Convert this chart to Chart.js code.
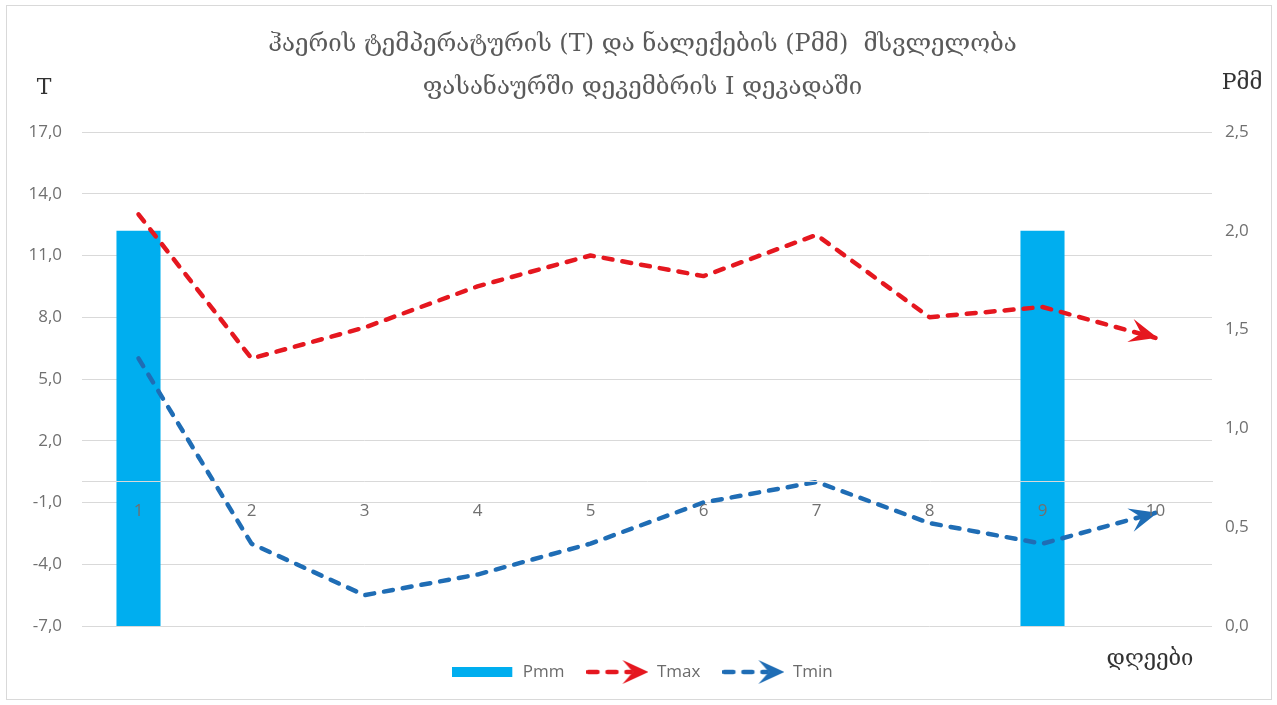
<!DOCTYPE html>
<html>
<head>
<meta charset="utf-8">
<title>ჰაერის ტემპერატურა და ნალექები</title>
<script src="https://cdn.jsdelivr.net/npm/chart.js@4.4.1/dist/chart.umd.min.js"></script>
<style>
  html, body { margin: 0; padding: 0; background: #fff; }
  #wrap { width: 1277px; height: 705px; position: relative; }
</style>
</head>
<body>
<div id="wrap"><canvas id="myChart" width="1277" height="705"></canvas></div>
<script>
// data
const days = ['1', '2', '3', '4', '5', '6', '7', '8', '9', '10'];
const pmm = [2.0, 0, 0, 0, 0, 0, 0, 0, 2.0, 0];
const tmax = [13.0, 6.0, 7.5, 9.5, 11.0, 10.0, 12.0, 8.0, 8.5, 7.0];
const tmin = [6.0, -3.0, -5.5, -4.5, -3.0, -1.0, 0.0, -2.0, -3.0, -1.5];
const tTicks = [-7, -4, -1, 2, 5, 8, 11, 14, 17];
const pTicks = [0, 0.5, 1.0, 1.5, 2.0, 2.5];

const titleLines = [
  'ჰაერის ტემპერატურის (T) და ნალექების (Pმმ)  მსვლელობა',
  'ფასანაურში დეკემბრის I დეკადაში',
];

const geoFont = '"DejaVu Serif", "DejaVu Sans", serif';
const sansFont = '"Open Sans", sans-serif';
const tickColor = '#707070';
const red = '#E5171F';
const blue = '#1F6DB5';
const sky = '#00AEEF';

const comma = (v) => Number(v).toFixed(1).replace('.', ',');

const drawArrow = (ctx, x, y, ang, color, len, wid) => {
  ctx.save();
  ctx.translate(x, y);
  ctx.rotate(ang);
  ctx.fillStyle = color;
  ctx.beginPath();
  ctx.moveTo(0, 0);
  ctx.lineTo(-len, -wid / 2);
  ctx.lineTo(-len * 0.6, 0);
  ctx.lineTo(-len, wid / 2);
  ctx.closePath();
  ctx.fill();
  ctx.restore();
};

const legendIcon = (kind, color) => {
  const c = document.createElement('canvas');
  c.width = 62;
  c.height = 26;
  const g = c.getContext('2d');
  if (kind === 'bar') {
    g.fillStyle = color;
    g.fillRect(0, 8, 60, 10);
  } else {
    g.strokeStyle = color;
    g.lineWidth = 4.5;
    g.lineCap = 'round';
    g.setLineDash([9, 10]);
    g.beginPath();
    g.moveTo(2, 13);
    g.lineTo(44, 13);
    g.stroke();
    drawArrow(g, 62, 13, 0, color, 26, 24);
  }
  return c;
};

const icons = [legendIcon('bar', sky), legendIcon('line', red), legendIcon('line', blue)];

// frame, arrow heads at the line ends, loose axis texts
const extras = {
  id: 'extras',
  beforeDraw(chart) {
    const ctx = chart.ctx;
    ctx.save();
    ctx.fillStyle = '#fff';
    ctx.fillRect(0, 0, chart.width, chart.height);
    ctx.strokeStyle = '#d9d9d9';
    ctx.lineWidth = 1;
    ctx.strokeRect(6.5, 5.5, 1265, 694);
    ctx.restore();
  },
  afterDatasetsDraw(chart) {
    const ctx = chart.ctx;
    chart.data.datasets.forEach((ds, i) => {
      if (ds.type !== 'line') return;
      const pts = chart.getDatasetMeta(i).data;
      const a = pts[pts.length - 2];
      const b = pts[pts.length - 1];
      drawArrow(ctx, b.x + 2, b.y, Math.atan2(b.y - a.y, b.x - a.x), ds.borderColor, 28, 24);
    });
  },
  afterDraw(chart) {
    const ctx = chart.ctx;
    ctx.save();
    ctx.fillStyle = '#333';
    ctx.textAlign = 'center';
    ctx.textBaseline = 'middle';
    ctx.font = '22px ' + geoFont;
    ctx.fillText('T', 44, 88);
    ctx.fillText('Pმმ', 1242, 83);
    ctx.fillText('დღეები', 1150, 659);
    ctx.restore();
  },
};

const ctx = document.getElementById('myChart').getContext('2d');

new Chart(ctx, {
  data: {
    labels: days,
    datasets: [
      {
        type: 'bar',
        label: 'Pmm',
        data: pmm,
        yAxisID: 'y2',
        backgroundColor: sky,
        borderWidth: 0,
        categoryPercentage: 1,
        barPercentage: 0.39,
        order: 3,
      },
      {
        type: 'line',
        label: 'Tmax',
        data: tmax,
        yAxisID: 'y',
        borderColor: red,
        borderWidth: 4.5,
        borderDash: [9, 10],
        borderCapStyle: 'round',
        borderJoinStyle: 'round',
        pointRadius: 0,
        tension: 0,
        order: 1,
      },
      {
        type: 'line',
        label: 'Tmin',
        data: tmin,
        yAxisID: 'y',
        borderColor: blue,
        borderWidth: 4.5,
        borderDash: [9, 10],
        borderCapStyle: 'round',
        borderJoinStyle: 'round',
        pointRadius: 0,
        tension: 0,
        order: 2,
      },
    ],
  },
  options: {
    responsive: false,
    animation: false,
    devicePixelRatio: 1,
    layout: {
      padding: { top: 0, left: 8, right: 0, bottom: 14.5 },
    },
    plugins: {
      title: {
        display: true,
        text: titleLines,
        color: '#5a5a5a',
        font: { family: geoFont, size: 24, weight: 'normal', lineHeight: 1.8 },
        padding: { top: 23, bottom: 22.6 },
      },
      legend: {
        position: 'bottom',
        title: {
          display: true,
          text: '',
          font: { size: 12.9 },
          padding: 0,
        },
        labels: {
          usePointStyle: true,
          pointStyleWidth: 62,
          padding: 22,
          color: '#6b6b6b',
          font: { family: sansFont, size: 17 },
          sort: (a, b) => a.datasetIndex - b.datasetIndex,
          generateLabels: (chart) =>
            Chart.defaults.plugins.legend.labels.generateLabels(chart).map((item) => {
              item.pointStyle = icons[item.datasetIndex];
              return item;
            }),
        },
      },
      tooltip: { enabled: false },
    },
    scales: {
      x: {
        type: 'category',
        position: { y: 0 },
        offset: true,
        grid: { display: false, drawTicks: false },
        border: { display: true, color: '#d9d9d9', width: 1, z: 1 },
        ticks: {
          z: 1,
          color: tickColor,
          padding: 19,
          font: { family: sansFont, size: 17 },
        },
      },
      y: {
        position: 'left',
        min: tTicks[0],
        max: tTicks[tTicks.length - 1],
        afterFit: (scale) => { scale.width = 74; },
        grid: { color: '#d9d9d9', drawTicks: false },
        border: { display: false },
        ticks: {
          stepSize: tTicks[1] - tTicks[0],
          padding: 20,
          color: tickColor,
          font: { family: sansFont, size: 17 },
          callback: comma,
        },
      },
      y2: {
        position: 'right',
        min: pTicks[0],
        max: pTicks[pTicks.length - 1],
        afterFit: (scale) => { scale.width = 65; },
        grid: { display: false, drawTicks: false },
        border: { display: false },
        ticks: {
          stepSize: pTicks[1] - pTicks[0],
          padding: 13,
          color: tickColor,
          font: { family: sansFont, size: 17 },
          callback: comma,
        },
      },
    },
  },
  plugins: [extras],
});
</script>
</body>
</html>
